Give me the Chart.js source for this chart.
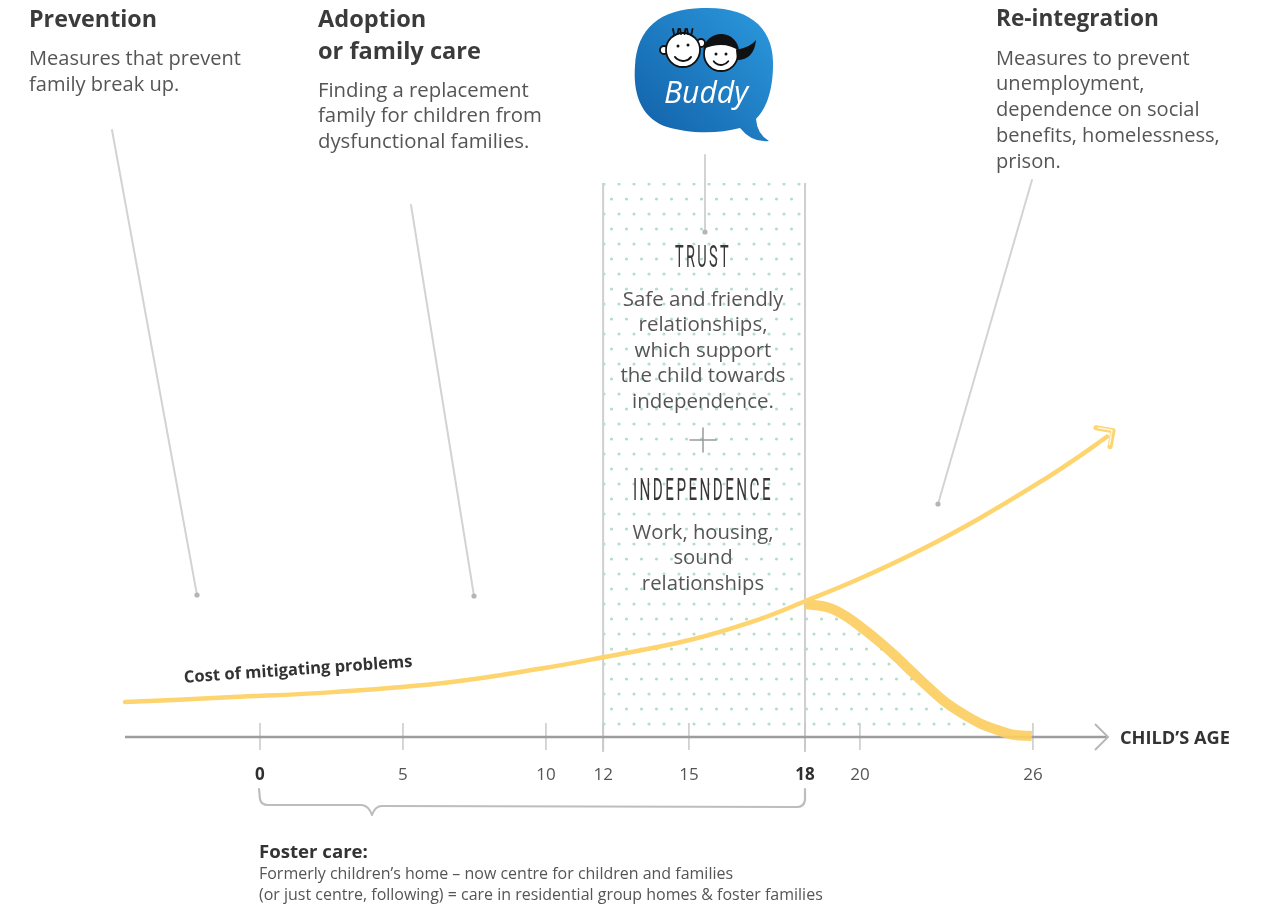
<!DOCTYPE html>
<html><head><meta charset="utf-8">
<script src="https://cdn.jsdelivr.net/npm/chart.js@4.4.1/dist/chart.umd.min.js"></script>
<style>html,body{margin:0;padding:0;background:#fff;overflow:hidden}#wrap{width:1262px;height:904px}</style>
</head><body><div id="wrap"><canvas id="c" width="1262" height="904"></canvas></div>
<script>
// ---- data (x in axis units, y in relative cost units) ----
const tickPositions = [0, 5, 10, 12, 15, 19.06, 20.98, 27.03];
const tickLabels = ['0', '5', '10', '12', '15', '18', '20', '26'];
const boldTicks = ['0', '18'];
const costX = [-4.72, -0.94, 2.55, 6.64, 10.0, 12.0, 15.03, 17.38, 19.06, 20.98, 23.08, 25.17, 27.27, 28.43, 29.62];
const costY = [6.3, 7.2, 8.1, 9.9, 12.5, 14.4, 17.5, 21.1, 24.5, 28.6, 33.7, 39.5, 46.0, 49.9, 54.2];
const dropX = [19.06, 19.93, 20.52, 21.15, 21.68, 22.27, 22.83, 23.43, 24.02, 24.58, 25.17, 25.77, 26.33, 26.99];
const dropY = [24.0, 23.3, 21.7, 19.3, 17.1, 14.4, 11.6, 8.7, 6.1, 4.2, 2.5, 1.3, 0.4, 0.2];
const bandX = [12, 19.06];
const bandY = [100, 100];

const F = '"Open Sans", "Noto Sans", sans-serif';
const canvas = document.getElementById('c');
const mctx = canvas.getContext('2d');

function makePattern() {
  const c = document.createElement('canvas'); c.width = 15; c.height = 30;
  const g = c.getContext('2d'); g.fillStyle = '#b2dfc9';
  [[4, 4], [11.5, 19]].forEach(([x, y]) => { g.beginPath(); g.arc(x, y, 1.6, 0, Math.PI * 2); g.fill(); });
  return mctx.createPattern(c, 'repeat');
}
const dots = makePattern();

function fitSize(ctx, text, weight, target) {
  ctx.font = `${weight} 100px ${F}`;
  return 100 * target / ctx.measureText(text).width;
}
function block(ctx, lines, x, ys, size, weight, color, align) {
  ctx.font = `${weight} ${size}px ${F}`;
  ctx.fillStyle = color; ctx.textAlign = align || 'left'; ctx.textBaseline = 'middle';
  lines.forEach((l, i) => ctx.fillText(l, x, ys[i] + 2));
}
function condensed(ctx, text, cx, cy, target) {
  ctx.save();
  ctx.font = `400 31px Roboto, ${F}`;
  ctx.letterSpacing = '5px';
  const w = ctx.measureText(text).width;
  ctx.translate(cx, cy + 2); ctx.scale(target / w, 1);
  ctx.fillStyle = '#383838'; ctx.textAlign = 'center'; ctx.textBaseline = 'middle';
  ctx.fillText(text, 0, 0);
  ctx.restore();
}
function pointer(ctx, x1, y1, x2, y2) {
  ctx.save();
  ctx.strokeStyle = '#d3d3d3'; ctx.lineWidth = 2; ctx.lineCap = 'round';
  ctx.beginPath(); ctx.moveTo(x1, y1); ctx.lineTo(x2, y2); ctx.stroke();
  ctx.fillStyle = '#b5b5b5'; ctx.beginPath(); ctx.arc(x2, y2, 2.6, 0, Math.PI * 2); ctx.fill();
  ctx.restore();
}
function logo(ctx) {
  ctx.save();
  const gr = ctx.createLinearGradient(765, 10, 640, 130);
  gr.addColorStop(0, '#2b97dc'); gr.addColorStop(1, '#1363aa');
  ctx.fillStyle = gr;
  ctx.beginPath();
  ctx.moveTo(702, 8);
  ctx.bezierCurveTo(752, 6, 775, 30, 773, 68);
  ctx.bezierCurveTo(772, 98, 763, 112, 756, 119);
  ctx.quadraticCurveTo(757, 134, 769, 141);
  ctx.quadraticCurveTo(752, 143, 740, 128);
  ctx.bezierCurveTo(718, 134, 688, 134, 664, 126);
  ctx.bezierCurveTo(640, 116, 633, 92, 635, 66);
  ctx.bezierCurveTo(637, 28, 660, 9, 702, 8);
  ctx.closePath(); ctx.fill();
  // boy
  ctx.lineWidth = 1.8; ctx.strokeStyle = '#111'; ctx.fillStyle = '#fff';
  [[664, 50, 4], [701, 43, 4]].forEach(([x, y, r]) => { ctx.beginPath(); ctx.arc(x, y, r, 0, Math.PI * 2); ctx.fill(); ctx.stroke(); });
  ctx.beginPath(); ctx.arc(683, 50, 17, 0, Math.PI * 2); ctx.fill(); ctx.stroke();
  ctx.beginPath();
  for (let i = 0; i < 6; i++) { const x = 674 + i * 3.5; ctx.moveTo(x, 34); ctx.lineTo(x + (i % 2 ? 1 : -1), 29); }
  ctx.stroke();
  ctx.fillStyle = '#111';
  [[678, 46], [688, 45]].forEach(([x, y]) => { ctx.beginPath(); ctx.arc(x, y, 1.5, 0, Math.PI * 2); ctx.fill(); });
  ctx.beginPath(); ctx.arc(683, 51, 10, 0.2 * Math.PI, 0.8 * Math.PI); ctx.stroke();
  // girl
  ctx.fillStyle = '#fff';
  ctx.beginPath(); ctx.arc(721, 54, 17, 0, Math.PI * 2); ctx.fill(); ctx.stroke();
  ctx.fillStyle = '#111';
  ctx.beginPath(); ctx.arc(721, 52, 18, Math.PI * 1.02, Math.PI * 1.98); ctx.quadraticCurveTo(724, 40, 703, 49); ctx.fill();
  ctx.beginPath(); ctx.moveTo(736, 50); ctx.quadraticCurveTo(751, 47, 756, 40); ctx.quadraticCurveTo(754, 60, 737, 60); ctx.fill();
  [[716, 54], [726, 54]].forEach(([x, y]) => { ctx.beginPath(); ctx.arc(x, y, 1.5, 0, Math.PI * 2); ctx.fill(); });
  ctx.beginPath(); ctx.arc(721, 56, 9, 0.2 * Math.PI, 0.8 * Math.PI); ctx.stroke();
  // text
  ctx.fillStyle = '#fff'; ctx.textAlign = 'center'; ctx.textBaseline = 'middle';
  const s = fitSize(ctx, 'Buddy', 'italic 400', 84);
  ctx.font = `italic 400 ${s}px ${F}`;
  ctx.fillText('Buddy', 706, 94);
  ctx.restore();
}

const decor = {
  id: 'decor',
  beforeDatasetsDraw(chart) {
    const ctx = chart.ctx, xs = chart.scales.x, ys = chart.scales.y;
    const y0 = ys.getPixelForValue(0);
    ctx.save();
    ctx.strokeStyle = '#cfcfcf'; ctx.lineWidth = 2;
    bandX.forEach(v => { const px = xs.getPixelForValue(v); ctx.beginPath(); ctx.moveTo(px, ys.getPixelForValue(100)); ctx.lineTo(px, y0 + 15); ctx.stroke(); });
    ctx.strokeStyle = '#c8c8c8'; ctx.lineWidth = 1.5;
    tickPositions.forEach(v => { const px = xs.getPixelForValue(v); ctx.beginPath(); ctx.moveTo(px, y0 - 14); ctx.lineTo(px, y0 + 13); ctx.stroke(); });
    const xl = chart.chartArea.left, xr = chart.chartArea.right;
    ctx.strokeStyle = '#9d9d9d'; ctx.lineWidth = 2.5;
    ctx.beginPath(); ctx.moveTo(xl, y0); ctx.lineTo(xr + 1, y0); ctx.stroke();
    ctx.strokeStyle = '#b8b8b8'; ctx.lineWidth = 2;
    ctx.beginPath(); ctx.moveTo(xr - 12, y0 - 13); ctx.lineTo(xr + 1, y0); ctx.lineTo(xr - 12, y0 + 13); ctx.stroke();
    ctx.restore();
  },
  afterDraw(chart) {
    const ctx = chart.ctx;
    ctx.save();
    const meta = chart.getDatasetMeta(0);
    const last = meta.data[meta.data.length - 1];
    const tx = last.x + 6, ty = last.y - 6;
    ctx.lineCap = 'round'; ctx.lineJoin = 'round';
    ctx.strokeStyle = '#fdd46e'; ctx.lineWidth = 5;
    ctx.beginPath(); ctx.moveTo(tx - 17, ty - 3); ctx.lineTo(tx, ty); ctx.lineTo(tx - 3, ty + 16); ctx.stroke();
    ctx.strokeStyle = '#fff7e0'; ctx.lineWidth = 1.5;
    ctx.beginPath(); ctx.moveTo(tx - 15, ty - 3); ctx.lineTo(tx - 1, ty - 0.5); ctx.lineTo(tx - 3.5, ty + 14); ctx.stroke();

    pointer(ctx, 112, 130, 197, 595);
    pointer(ctx, 411, 205, 474, 596);
    pointer(ctx, 705, 155, 705, 232);
    pointer(ctx, 1032, 180, 938, 504);

    const dark = '#3b3b3b', body = '#555';
    let s = fitSize(ctx, 'Prevention', 700, 128);
    block(ctx, ['Prevention'], 29, [18], s, 700, dark);
    s = fitSize(ctx, 'Measures that prevent', 400, 212);
    block(ctx, ['Measures that prevent', 'family break up.'], 29, [57, 83], s, 400, body);
    s = fitSize(ctx, 'or family care', 700, 163);
    block(ctx, ['Adoption', 'or family care'], 318, [18, 50], s, 700, dark);
    s = fitSize(ctx, 'family for children from', 400, 224);
    block(ctx, ['Finding a replacement', 'family for children from', 'dysfunctional families.'], 318, [89, 114, 140], s, 400, body);
    s = fitSize(ctx, 'Re-integration', 700, 163);
    block(ctx, ['Re-integration'], 996, [18], s, 700, dark);
    s = fitSize(ctx, 'benefits, homelessness,', 400, 224);
    block(ctx, ['Measures to prevent', 'unemployment,', 'dependence on social', 'benefits, homelessness,', 'prison.'], 996, [57, 82, 108, 134, 160], s, 400, body);

    condensed(ctx, 'TRUST', 703, 257, 56);
    s = fitSize(ctx, 'the child towards', 400, 165);
    block(ctx, ['Safe and friendly', 'relationships,', 'which support', 'the child towards', 'independence.'], 703, [298, 323, 349, 374, 400], s, 400, body, 'center');
    ctx.strokeStyle = '#9a9a9a'; ctx.lineWidth = 1.5;
    ctx.beginPath(); ctx.moveTo(690, 440); ctx.lineTo(716, 440); ctx.moveTo(703, 428); ctx.lineTo(703, 452); ctx.stroke();
    condensed(ctx, 'INDEPENDENCE', 703, 490, 140);
    s = fitSize(ctx, 'Work, housing,', 400, 141);
    block(ctx, ['Work, housing,', 'sound', 'relationships'], 703, [531, 556, 582], s, 400, body, 'center');

    ctx.save();
    ctx.translate(184, 678); ctx.rotate(Math.atan2(-16, 228));
    s = fitSize(ctx, 'Cost of mitigating problems', 700, 229);
    block(ctx, ['Cost of mitigating problems'], 0, [-2], s, 700, '#333');
    ctx.restore();

    s = fitSize(ctx, 'CHILD’S AGE', 700, 110);
    block(ctx, ['CHILD’S AGE'], 1120, [737], s, 700, '#333');

    ctx.strokeStyle = '#bdbdbd'; ctx.lineWidth = 2.2; ctx.lineJoin = 'round';
    ctx.beginPath();
    ctx.moveTo(259, 789); ctx.lineTo(260, 799); ctx.quadraticCurveTo(261, 805, 268, 805);
    ctx.lineTo(362, 805); ctx.quadraticCurveTo(369, 806, 372, 815); ctx.quadraticCurveTo(375, 806, 382, 806);
    ctx.lineTo(797, 807); ctx.quadraticCurveTo(804, 807, 805, 800); ctx.lineTo(805, 789);
    ctx.stroke();

    s = fitSize(ctx, 'Foster care:', 700, 109);
    block(ctx, ['Foster care:'], 259, [851], s, 700, '#333');
    const l2 = '(or just centre, following) = care in residential group homes & foster families';
    s = fitSize(ctx, l2, 400, 564);
    block(ctx, ['Formerly children’s home – now centre for children and families', l2], 259, [872, 893], s, 400, body);

    logo(ctx);
    ctx.restore();
  }
};

const pts = (xs, ys) => xs.map((x, i) => ({ x, y: ys[i] }));

new Chart(canvas, {
  type: 'line',
  data: {
    datasets: [
      { label: 'Cost of mitigating problems', data: pts(costX, costY), borderColor: '#fdd46e', borderWidth: 4.5,
        fill: false, pointRadius: 0, tension: 0.4, clip: false, borderCapStyle: 'round' },
      { label: 'After 18', data: pts(dropX, dropY), borderColor: 'rgba(252,206,98,0.92)', borderWidth: 10,
        fill: 'origin', backgroundColor: dots, pointRadius: 0, cubicInterpolationMode: 'monotone', clip: false },
      { label: 'Band', data: pts(bandX, bandY), borderWidth: 0, borderColor: 'rgba(0,0,0,0)',
        fill: 'origin', backgroundColor: dots, pointRadius: 0 }
    ]
  },
  options: {
    responsive: false, animation: false, devicePixelRatio: 1,
    layout: { padding: { left: 125, right: 155, top: 183, bottom: 0 } },
    plugins: { legend: { display: false }, tooltip: { enabled: false } },
    scales: {
      x: {
        type: 'linear', min: -4.72, max: 29.62, position: 'bottom',
        afterBuildTicks: s => { s.ticks = tickPositions.map(v => ({ value: v })); },
        afterFit: s => { s.height = 904 - 737; },
        grid: { display: false, drawTicks: false }, border: { display: false },
        ticks: {
          autoSkip: false, maxRotation: 0, padding: 28,
          callback: (v, i) => tickLabels[i],
          color: c => boldTicks.includes(tickLabels[c.index]) ? '#2f2f2f' : '#555',
          font: c => ({ family: F, size: 17, weight: boldTicks.includes(tickLabels[c.index]) ? 'bold' : 'normal' })
        }
      },
      y: { display: false, min: 0, max: 100 }
    }
  },
  plugins: [decor]
});
</script>
</body></html>
